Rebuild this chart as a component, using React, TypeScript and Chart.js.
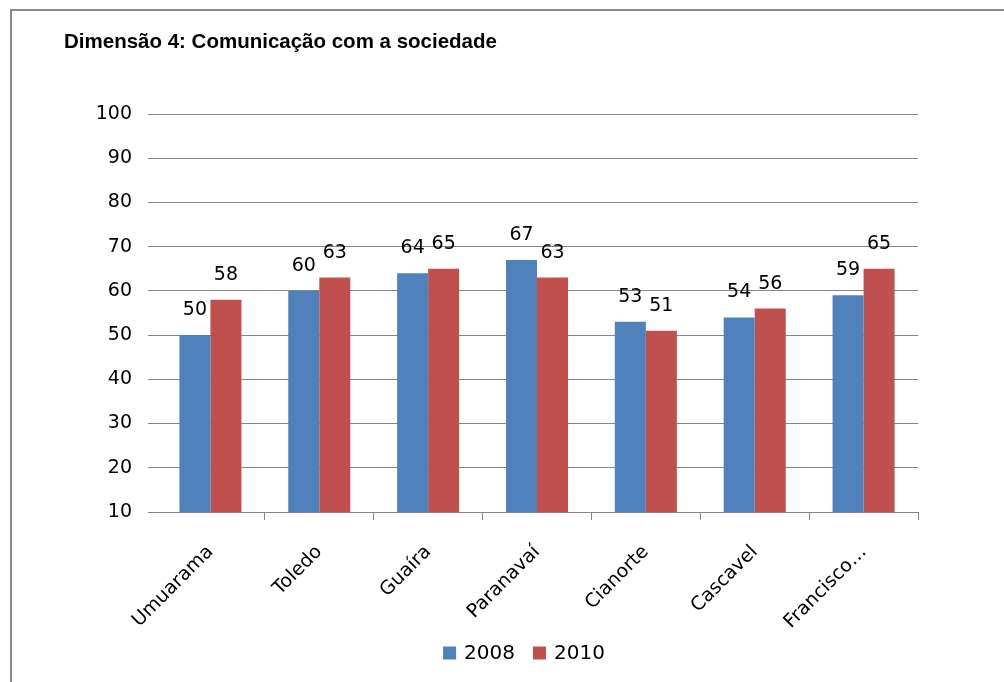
import React, { useEffect, useRef } from "react";
import { Chart, registerables } from "chart.js";

Chart.register(...registerables);

const TITLE = "Dimensão 4: Comunicação com a sociedade";
const CATEGORIES = ["Umuarama", "Toledo", "Guaíra", "Paranavaí", "Cianorte", "Cascavel", "Francisco…"];
const SERIES_2008 = [50, 60, 64, 67, 53, 54, 59];
const SERIES_2010 = [58, 63, 65, 63, 51, 56, 65];
const SERIES_LABELS = ["2008", "2010"];
const Y_MIN = 10;
const Y_MAX = 100;
const Y_STEP = 10;

const BLUE = "#4F81BD";
const RED = "#C0504D";
const GRID = "#868686";
const FONT = "'DejaVu Sans', sans-serif";

const W = 1004;
const H = 682;

const decorPlugin = {
  id: "decor",
  beforeDraw(chart: any) {
    const ctx = chart.ctx;
    ctx.save();
    ctx.fillStyle = "#ffffff";
    ctx.fillRect(0, 0, W, H);
    ctx.fillStyle = "#8a8a8a";
    ctx.fillRect(10, 9, W - 10, 2);
    ctx.fillRect(10, 9, 2, H - 9);
    ctx.fillStyle = "#000";
    ctx.font = "bold 20.5px 'Liberation Sans', Arial, sans-serif";
    ctx.textBaseline = "middle";
    ctx.textAlign = "left";
    ctx.fillText(TITLE, 64, 42);
    ctx.restore();
  },
  afterDatasetsDraw(chart: any) {
    const ctx = chart.ctx;
    ctx.save();
    ctx.font = "19px " + FONT;
    ctx.fillStyle = "#000";
    ctx.textAlign = "center";
    ctx.textBaseline = "middle";
    chart.data.datasets.forEach((ds: any, di: number) => {
      const meta = chart.getDatasetMeta(di);
      meta.data.forEach((bar: any, i: number) => {
        ctx.fillText(String(ds.data[i]), bar.x, bar.y - 25);
      });
    });
    // legend
    ctx.font = "20px " + FONT;
    const items = chart.data.datasets.map((ds: any) => ({
      label: ds.label,
      color: ds.backgroundColor,
      w: ctx.measureText(ds.label).width,
    }));
    const box = 13;
    const gap = 8;
    const itemGap = 18;
    const total = items.reduce((s: number, it: any) => s + box + gap + it.w, 0) + itemGap * (items.length - 1);
    let x = 524 - total / 2;
    const cy = 653;
    ctx.textAlign = "left";
    items.forEach((it: any) => {
      ctx.fillStyle = it.color;
      ctx.fillRect(x, cy - box / 2, box, box);
      ctx.fillStyle = "#000";
      ctx.fillText(it.label, x + box + gap, cy + 1);
      x += box + gap + it.w + itemGap;
    });
    ctx.restore();
  },
};

export default function App() {
  const ref = useRef<HTMLCanvasElement>(null);
  useEffect(() => {
    document.body.style.margin = "0";
    const chart = new Chart(ref.current!, {
      type: "bar",
      data: {
        labels: CATEGORIES,
        datasets: [
          { label: SERIES_LABELS[0], data: SERIES_2008, backgroundColor: BLUE, borderWidth: 0 },
          { label: SERIES_LABELS[1], data: SERIES_2010, backgroundColor: RED, borderWidth: 0 },
        ],
      },
      options: {
        animation: false,
        responsive: false,
        devicePixelRatio: 1,
        layout: { padding: { top: 114, left: 0, right: 86, bottom: 0 } },
        datasets: { bar: { categoryPercentage: 0.57, barPercentage: 1 } },
        plugins: {
          legend: { display: false },
          title: { display: false },
          tooltip: { enabled: false },
        },
        scales: {
          x: {
            afterFit(scale: any) {
              scale.height = H - 512;
            },
            grid: {
              offset: true,
              drawOnChartArea: false,
              drawTicks: true,
              tickLength: 8,
              color: (c: any) => (c.index === 0 ? "rgba(0,0,0,0)" : GRID),
            },
            border: { display: true, color: GRID, width: 1 },
            ticks: {
              minRotation: 45,
              maxRotation: 45,
              padding: 21,
              color: "#000",
              font: { family: FONT, size: 19 },
              autoSkip: false,
            },
          },
          y: {
            min: Y_MIN,
            max: Y_MAX,
            afterFit(scale: any) {
              scale.width = 156;
            },
            ticks: {
              stepSize: Y_STEP,
              padding: 16,
              color: "#000",
              font: { family: FONT, size: 19 },
            },
            grid: { color: GRID, lineWidth: 1, tickLength: 8, drawTicks: true },
            border: { display: false },
          },
        },
      },
      plugins: [decorPlugin],
    } as any);
    return () => chart.destroy();
  }, []);
  return (
    <div style={{ width: W, height: H }}>
      <canvas ref={ref} width={W} height={H} style={{ display: "block" }} />
    </div>
  );
}
